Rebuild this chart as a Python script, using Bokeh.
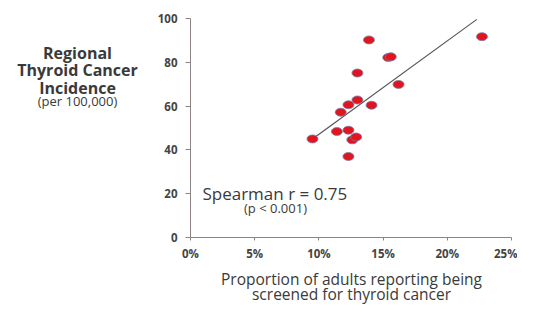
from bokeh.plotting import figure
from bokeh.models import Range1d, FixedTicker, Label
from bokeh.embed import file_html
from bokeh.resources import INLINE

# data: screening proportion (%) vs incidence (per 100,000)
screened_pct = [9.5, 11.4, 12.3, 12.3, 12.6, 12.9, 11.7, 12.3, 13.0, 14.1, 13.0, 13.9, 15.4, 15.6, 16.2, 22.7]
incidence = [45.0, 48.4, 49.0, 37.0, 44.6, 45.9, 57.2, 60.6, 62.8, 60.4, 75.1, 90.2, 82.2, 82.5, 69.9, 91.7]
fit_x = [9.5, 22.3]
fit_y = [45.0, 99.6]
x_ticks = [0, 5, 10, 15, 20, 25]
x_tick_labels = ["0%", "5%", "10%", "15%", "20%", "25%"]
y_ticks = [0, 20, 40, 60, 80, 100]

FONT = "Open Sans"
TXT = "#3a3a3a"
AX = "#8c8484"

p = figure(width=517, height=307, output_backend="svg", toolbar_location=None,
           x_range=Range1d(0, 25), y_range=Range1d(0, 100),
           min_border_left=190, min_border_right=6, min_border_top=17, min_border_bottom=67)
p.outline_line_color = None
p.grid.visible = False
p.background_fill_color = "white"

for ax in (p.xaxis[0], p.yaxis[0]):
    ax.axis_line_color = AX
    ax.major_tick_line_color = AX
    ax.minor_tick_line_color = None
    ax.major_tick_in = 0
    ax.major_tick_out = 5
    ax.major_label_text_font = FONT
    ax.major_label_text_font_size = "11.5px"
    ax.major_label_text_color = "#444444"
    ax.major_label_text_font_style = "bold"

p.xaxis.ticker = FixedTicker(ticks=x_ticks)
p.xaxis.major_label_overrides = {t: l for t, l in zip(x_ticks, x_tick_labels)}
p.xaxis.major_tick_out = 3
p.xaxis.major_label_standoff = 5
p.yaxis.ticker = FixedTicker(ticks=y_ticks)
p.yaxis.major_label_standoff = 8

p.line(fit_x, fit_y, line_color="#555555", line_width=1.2)
p.ellipse(x=screened_pct, y=incidence, width=11, height=8,
          width_units="screen", height_units="screen",
          fill_color="#e3141e", line_color="#7080a8", line_width=0.8)

def lab(x, y, text, size, align="center", style="normal", place="center", lh=1.2):
    p.add_layout(Label(x=x, y=y, text=text, text_font=FONT, text_font_size=size,
                       text_color=TXT, text_align=align, text_baseline="middle",
                       text_font_style=style, text_line_height=lh), place)

# side panels only reserve room; data coordinates keep positions, without frame clipping
lab(-8.8, 76.4, "Regional\nThyroid Cancer\nIncidence", "16px", style="bold", place="left", lh=0.8)
lab(-8.8, 62.2, "(per 100,000)", "13px", place="above")
lab(0.93, 20.0, "Spearman r = 0.75", "17px", align="left")
lab(6.62, 13.3, "(p < 0.001)", "13px")
lab(12.54, -19.1, "Proportion of adults reporting being", "15.5px", place="below")
lab(12.54, -25.8, "screened for thyroid cancer", "15.5px", place="below")

open("out.html", "w").write(file_html(p, INLINE))
